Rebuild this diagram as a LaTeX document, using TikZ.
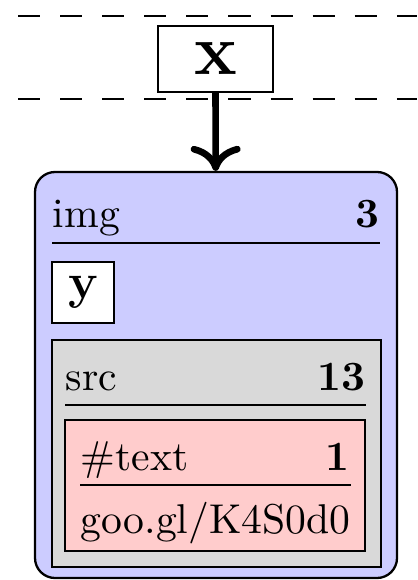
\documentclass[tikz,border=0pt]{standalone}
\usepackage{amsmath,amssymb}
\usetikzlibrary{arrows.meta}

\begin{document}
\begin{tikzpicture}[x=0.24pt,y=-0.24pt,
    box/.style={draw,line width=0.45pt,inner sep=0pt},
    lbl/.style={inner sep=0pt,anchor=base west},
    cnt/.style={inner sep=0pt,anchor=base east,font=\bfseries},
    rule/.style={line width=0.4pt}]
	% frame and layers
	\useasboundingbox (0,0) rectangle (417,580);
	\draw[line width=0.5pt,dash pattern=on 5.3pt off 4.8pt] (18,16) -- (417,16);
	\draw[line width=0.5pt,dash pattern=on 5.3pt off 4.8pt] (18,99) -- (417,99);
	
	\node[box,fill=white,minimum width=27.6pt,minimum height=15.84pt,font=\LARGE\bfseries] (X) at (215.5,59) {x};
	\node[box,line width=0.55pt,fill=blue!20,rounded corners=4.8pt,minimum width=86.88pt,minimum height=97.44pt] (Img) at (216,375) {};
	\draw[line width=1.6pt,-{To[length=6pt,width=12pt]}] (X) to (Img);
	
	% img element
	\node[lbl] (ImgName) at (52,228) {img};
	\node[cnt] (ImgCount) at (380,228) {3};
	\draw[rule] (52,243) -- (380,243);
	\node[box,fill=white,minimum width=14.88pt,minimum height=14.64pt,font=\large\bfseries] (Y) at (83,292.5) {y};
	
	% src attribute
	\node[box,fill=gray!30,minimum width=78.96pt,minimum height=54.48pt] (Src) at (216.5,453.5) {};
	\node[lbl] (SrcName) at (65,390) {src};
	\node[cnt] (SrcCount) at (366,390) {13};
	\draw[rule] (65,405) -- (366,405);
	
	% text child
	\node[box,fill=red!20,minimum width=72pt,minimum height=31.44pt] (Text) at (215,485.5) {};
	\node[lbl] (TextName) at (80,470) {\#text};
	\node[cnt] (TextCount) at (350,470) {1};
	\draw[rule] (80,485) -- (351,485);
	\node[lbl] (TextValue) at (80,533) {goo.gl/K4S0d0};
\end{tikzpicture}
\end{document}
